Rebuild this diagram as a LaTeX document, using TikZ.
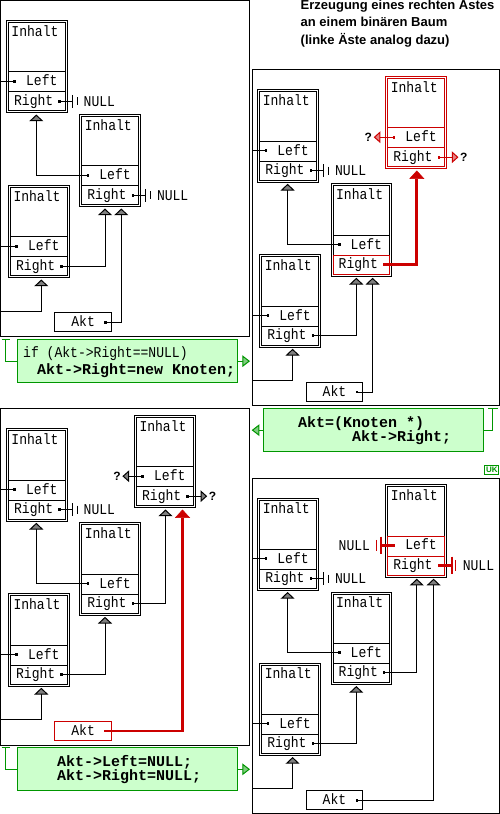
\documentclass[tikz,border=0pt]{standalone}
\usepackage{fontspec}
\newfontfamily\monof[FakeStretch=0.87]{Liberation Mono}
\newfontfamily\monog{Liberation Mono}
\newfontfamily\sansf{Liberation Sans}
\usetikzlibrary{arrows.meta,calc}
\definecolor{gcol}{RGB}{0,150,0}
\definecolor{gfill}{RGB}{204,255,204}
\definecolor{rcol}{RGB}{204,0,0}
\tikzset{
 conn/.style={draw=black, line width=1pt},
 rconn/.style={draw=rcol, line width=2.7pt},
 htip/.style={-{Triangle[width=14pt,length=6.7pt,fill=black!50,line width=1pt]}},
 rtip/.style={-{Triangle[width=15pt,length=8.3pt,fill=rcol,line width=0.5pt]}},
 qtip/.style={-{Triangle[width=11.7pt,length=6.7pt,fill=#1!50,line width=1pt]}},
 tbox/.style={rectangle, anchor=north west, double, double distance=1pt, line width=1pt, minimum width=58.7pt, minimum height=90.3pt, inner sep=0pt, outer sep=0pt},
 trow/.style={rectangle, anchor=north west, line width=1pt, minimum width=56.7pt, inner sep=0pt, outer sep=0pt},
 tlbl/.style={anchor=base west, inner sep=0pt, outer sep=0pt, font=\monof\fontsize{15}{17}\selectfont},
 tdot/.style={rectangle, minimum size=2.6pt, inner sep=0pt, outer sep=0pt},
 abox/.style={rectangle, anchor=north west, line width=1pt, minimum width=56.4pt, minimum height=19pt, inner sep=0pt, outer sep=0pt},
 panel/.style={rectangle, draw, anchor=north west, line width=1pt, inner sep=0pt, outer sep=0pt},
 gbox/.style={rectangle, draw=gcol, fill=gfill, anchor=north west, line width=1pt, minimum width=219.4pt, inner sep=0pt, outer sep=0pt},
 gline/.style={draw=gcol, line width=1pt},
 gtip/.style={-{Triangle[width=11.7pt,length=7.7pt,fill=gcol!50,line width=1pt]}},
 gtxt/.style={anchor=base west, inner sep=0pt, font=\monof\fontsize{15}{17}\selectfont},
 gbold/.style={anchor=base west, inner sep=0pt, font=\monog\bfseries\fontsize{15}{17}\selectfont},
 qm/.style={inner sep=1.5pt, font=\sansf\bfseries\fontsize{12}{14}\selectfont},
 ttl/.style={anchor=base west, inner sep=0pt, font=\sansf\bfseries\fontsize{13}{15}\selectfont},
}
\newcommand\treenode[6]{%
 \node[tbox, draw=#4] (#1) at (#2+1,#3+1) {};
 \node[trow, draw=#5, minimum height=20pt] (#1-left) at (#2+2,#3+51.3) {};
 \node[trow, draw=#6, minimum height=19pt] (#1-right) at (#2+2,#3+71.3) {};
 \node[tlbl] (#1-inh) at (#2+5,#3+15.5) {Inhalt};
 \node[tlbl] (#1-lt) at (#2+19.6,#3+65.2) {Left};
 \node[tlbl] (#1-rt) at (#2+7.6,#3+84.8) {Right};
 \node[tdot, fill=#5] (#1-ld) at (#2+8.2,#3+60.7) {};
 \node[tdot, fill=#6] (#1-rd) at (#2+53,#3+80.7) {};
 \coordinate (#1-b) at (#2,#3+94);
}
\newcommand\aktnode[4]{%
 \node[abox, draw=#4] (#1) at (#2,#3) {};
 \node[tlbl] (#1-t) at (#2+16.6,#3+13.9) {Akt};
 \node[tdot, fill=#4] (#1-d) at (#2+50.7,#3+9.9) {};
}
\newcommand\nullsym[2]{%
 \coordinate (#2-a) at ($(#1)+(12.9,0)$);
 \draw[conn] (#1.center) -- (#2-a);
 \draw[conn] ($(#2-a)+(0,-6.3)$) -- ($(#2-a)+(0,6.3)$);
 \draw[conn] ($(#2-a)+(5,-4)$) -- ($(#2-a)+(5,4)$);
 \node[tlbl, anchor=west] (#2) at ($(#2-a)+(11.3,0)$) {NULL};
}
\newcommand\nullsymred[4]{%
 \coordinate (#2-a) at ($(#1)+({#3*13.5},0)$);
 \draw[rconn] (#1.center) -- (#2-a);
 \draw[draw=rcol, line width=2pt] ($(#2-a)+(0,-8.8)$) -- ($(#2-a)+(0,8.8)$);
 \draw[draw=rcol, line width=1pt] ($(#2-a)+({#3*3.6},-5.6)$) -- ($(#2-a)+({#3*3.6},5.6)$);
 \node[tlbl, anchor=#4] (#2) at ($(#2-a)+({#3*10.5},0)$) {NULL};
}
\newcommand\qleft[3]{%
 \node[qm, anchor=east] (#2) at ($(#1)+(-20.3,0)$) {?};
 \draw[conn, draw=#3, qtip=#3] (#1.center) -- (#2.east);
}
\newcommand\qright[3]{%
 \node[qm, anchor=west] (#2) at ($(#1)+(19.7,0)$) {?};
 \draw[conn, draw=#3, qtip=#3] (#1.center) -- (#2.west);
}
\begin{document}
\begin{tikzpicture}[x=1pt,y=-1pt]
\useasboundingbox (0,0) rectangle (500,814);
% title
\node[ttl] (t1) at (300.5,9.3) {Erzeugung eines rechten Astes};
\node[ttl] (t2) at (300.5,26.7) {an einem binären Baum};
\node[ttl] (t3) at (300.5,44) {(linke Äste analog dazu)};
% ---------- panel 1
\begin{scope}
\node[panel, minimum width=248.5pt, minimum height=336.2pt] (p1f) at (0.5,0.5) {};
\treenode{p1a}{6.5}{20.5}{black}{black}{black}
\treenode{p1b}{79.8}{114.5}{black}{black}{black}
\treenode{p1c}{8.5}{185.5}{black}{black}{black}
\aktnode{p1k}{54.8}{312.8}{black}
\coordinate (p1e) at (0.5,311);
\draw[conn] (p1a-ld -| p1f.west) -- (p1a-ld.center);
\draw[conn] (p1c-ld -| p1f.west) -- (p1c-ld.center);
\nullsym{p1a-rd}{p1a-null}
\nullsym{p1b-rd}{p1b-null}
\draw[conn,htip] (p1b-ld.center) -| ($(p1a-b)+(29.8,0)$);
\draw[conn,htip] (p1c-rd.center) -| ($(p1b-b)+(25.2,0)$);
\draw[conn,htip] (p1k-d.center) -| ($(p1b-b)+(41.5,0)$);
\draw[conn,htip] (p1e) -| ($(p1c-b)+(32.8,0)$);
\end{scope}
% ---------- panel 2
\begin{scope}[shift={(251.3,69.3)}]
\node[panel, minimum width=247.1pt, minimum height=336pt] (p2f) at (0.9,0.5) {};
\treenode{p2a}{6.5}{20.5}{black}{black}{black}
\treenode{p2b}{79.8}{114.5}{black}{black}{rcol}
\treenode{p2c}{8.5}{185.5}{black}{black}{black}
\treenode{p2d}{134.5}{7.2}{rcol}{rcol}{rcol}
\aktnode{p2k}{54.8}{312.8}{black}
\coordinate (p2e) at (0.9,311);
\draw[conn] (p2a-ld -| p2f.west) -- (p2a-ld.center);
\draw[conn] (p2c-ld -| p2f.west) -- (p2c-ld.center);
\nullsym{p2a-rd}{p2a-null}
\draw[conn,htip] (p2b-ld.center) -| ($(p2a-b)+(29.8,0)$);
\draw[conn,htip] (p2c-rd.center) -| ($(p2b-b)+(25.2,0)$);
\draw[conn,htip] (p2k-d.center) -| ($(p2b-b)+(41.5,0)$);
\draw[conn,htip] (p2e) -| ($(p2c-b)+(32.8,0)$);
\draw[rconn,rtip] (p2b-rd.center) -| ($(p2d-b)+(31,0)$);
\qleft{p2d-ld}{p2d-q1}{rcol}
\qright{p2d-rd}{p2d-q2}{rcol}
\end{scope}
% ---------- panel 3
\begin{scope}[shift={(0,408.3)}]
\node[panel, minimum width=248.5pt, minimum height=336.5pt] (p3f) at (0.5,0.5) {};
\treenode{p3a}{6.5}{20.5}{black}{black}{black}
\treenode{p3b}{79.8}{114.5}{black}{black}{black}
\treenode{p3c}{8.5}{185.5}{black}{black}{black}
\treenode{p3d}{134.5}{7.2}{black}{black}{black}
\aktnode{p3k}{54.8}{312.8}{rcol}
\coordinate (p3e) at (0.5,311);
\draw[conn] (p3a-ld -| p3f.west) -- (p3a-ld.center);
\draw[conn] (p3c-ld -| p3f.west) -- (p3c-ld.center);
\nullsym{p3a-rd}{p3a-null}
\draw[conn,htip] (p3b-ld.center) -| ($(p3a-b)+(29.8,0)$);
\draw[conn,htip] (p3b-rd.center) -| ($(p3d-b)+(31,0)$);
\draw[conn,htip] (p3c-rd.center) -| ($(p3b-b)+(25.2,0)$);
\draw[conn,htip] (p3e) -| ($(p3c-b)+(32.8,0)$);
\draw[rconn,rtip] (p3k-d.center) -| ($(p3d-b)+(48,0)$);
\qleft{p3d-ld}{p3d-q1}{black}
\qright{p3d-rd}{p3d-q2}{black}
\end{scope}
% ---------- panel 4
\begin{scope}[shift={(251.3,477.5)}]
\node[panel, minimum width=247.1pt, minimum height=335pt] (p4f) at (0.9,0.5) {};
\treenode{p4a}{6.5}{20.5}{black}{black}{black}
\treenode{p4b}{79.8}{114.5}{black}{black}{black}
\treenode{p4c}{8.5}{185.5}{black}{black}{black}
\treenode{p4d}{134.5}{7.2}{black}{rcol}{rcol}
\aktnode{p4k}{54.8}{312.8}{black}
\coordinate (p4e) at (0.9,311);
\draw[conn] (p4a-ld -| p4f.west) -- (p4a-ld.center);
\draw[conn] (p4c-ld -| p4f.west) -- (p4c-ld.center);
\nullsym{p4a-rd}{p4a-null}
\draw[conn,htip] (p4b-ld.center) -| ($(p4a-b)+(29.8,0)$);
\draw[conn,htip] (p4b-rd.center) -| ($(p4d-b)+(31,0)$);
\draw[conn,htip] (p4c-rd.center) -| ($(p4b-b)+(25.2,0)$);
\draw[conn,htip] (p4e) -| ($(p4c-b)+(32.8,0)$);
\draw[conn,htip] (p4k-d.center) -| ($(p4d-b)+(47.8,0)$);
\nullsymred{p4d-ld}{p4d-n1}{-1}{east}
\nullsymred{p4d-rd}{p4d-n2}{1}{west}
\end{scope}
% ---------- green boxes
\node[gbox, minimum height=42.7pt] (g1) at (17.8,339.8) {};
\node[gtxt] (g1a) at (23,357.3) {if (Akt->Right==NULL)};
\node[gbold] (g1b) at (37,374) {Akt->Right=new Knoten;};
\coordinate (g1t) at (5.5,339.8);
\coordinate (g1t1) at (1.7,339.8);
\coordinate (g1t2) at (10,339.8);
\coordinate (g1o) at (250,361.15);
\draw[gline] (g1t1) -- (g1t2);
\draw[gline] (g1t) |- (g1.west);
\draw[gline,gtip] (g1.east) -- (g1o);
%
\node[gbox, minimum height=42.7pt] (g2) at (263.8,408.8) {};
\node[gbold] (g2a) at (298,427.3) {Akt=(Knoten *)};
\node[gbold] (g2b) at (352,441.7) {Akt->Right;};
\coordinate (g2o) at (251.7,430.15);
\coordinate (g2t) at (492.8,408.8);
\coordinate (g2t1) at (488.3,408.8);
\coordinate (g2t2) at (498.3,408.8);
\draw[gline,gtip] (g2.west) -- (g2o);
\draw[gline] (g2.east) -| (g2t);
\draw[gline] (g2t1) -- (g2t2);
%
\node[gbox, minimum height=43pt] (g3) at (17.8,747.8) {};
\node[gbold] (g3a) at (57,766.7) {Akt->Left=NULL;};
\node[gbold] (g3b) at (57,780.7) {Akt->Right=NULL;};
\coordinate (g3t) at (5.5,747.8);
\coordinate (g3t1) at (1.7,747.8);
\coordinate (g3t2) at (10,747.8);
\coordinate (g3o) at (250,769.3);
\draw[gline] (g3t1) -- (g3t2);
\draw[gline] (g3t) |- (g3.west);
\draw[gline,gtip] (g3.east) -- (g3o);
% UK
\node[draw=gcol, line width=1pt, minimum width=14pt, minimum height=9.5pt, inner sep=0pt, text=gcol, font=\sansf\bfseries\fontsize{8}{9}\selectfont] (uk) at (491.8,470) {UK};
\end{tikzpicture}
\end{document}
